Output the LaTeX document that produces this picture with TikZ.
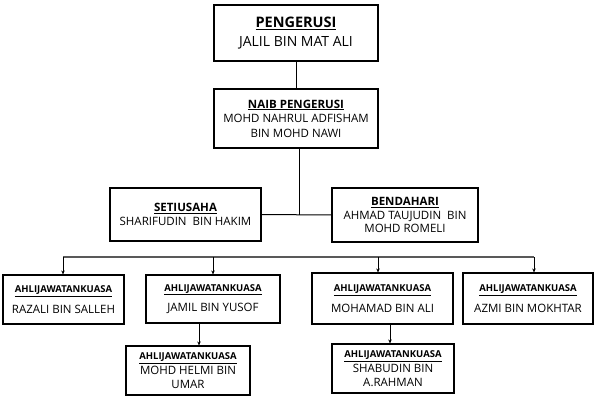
\documentclass[tikz,border=0pt]{standalone}
\usepackage{fontspec}
\setmainfont{Open Sans}
\usepackage{tikz}
\usetikzlibrary{arrows.meta,positioning,calc}

\begin{document}
\begin{tikzpicture}[x=1pt, y=-1pt]
  \tikzstyle{post} = [rectangle, draw=black, line width=1.1pt, fill=white, align=center,
                      inner sep=1pt, font=\fontsize{11.5}{13.5}\selectfont]
  \tikzstyle{link} = [line width=1pt, draw=black]
  \tikzstyle{bus} = [line width=1.4pt, draw=black!65]
  \tikzstyle{arrow} = [-{Stealth[length=4pt,width=3.5pt]}, line width=0.9pt]
  \newcommand{\jawatan}[1]{\underline{\textbf{#1}}}
  \newcommand{\ajk}{\fontsize{9.5}{11}\selectfont\jawatan{AHLIJAWATANKUASA}}
  \useasboundingbox (0,0) rectangle (599,401);
  % pengurusan atasan
  \node[post, minimum width=164pt, minimum height=56pt, font=\fontsize{14}{19}\selectfont]
    (pengerusi) at (296,33) {\fontsize{14.5}{19}\selectfont\jawatan{PENGERUSI}\\JALIL BIN MAT ALI};
  \node[post, minimum width=164pt, minimum height=59pt, font=\fontsize{11.5}{14.5}\selectfont]
    (naib) at (296,118.5) {\fontsize{11.5}{14.5}\selectfont\jawatan{NAIB PENGERUSI}\\MOHD NAHRUL ADFISHAM\\BIN MOHD NAWI};
  \node[post, minimum width=151pt, minimum height=53pt]
    (setiusaha) at (185.5,214.5) {\jawatan{SETIUSAHA}\\SHARIFUDIN~ BIN HAKIM};
  \node[post, minimum width=146pt, minimum height=54pt]
    (bendahari) at (405,215) {\jawatan{BENDAHARI}\\AHMAD TAUJUDIN~ BIN\\MOHD ROMELI};
  % ahli jawatankuasa
  \node[post, minimum width=121pt, minimum height=49pt]
    (razali) at (63.5,299.5) {\ajk\\[7pt]RAZALI BIN SALLEH};
  \node[post, minimum width=134pt, minimum height=48pt]
    (jamil) at (213,299) {\ajk\\[7pt]JAMIL BIN YUSOF};
  \node[post, minimum width=141pt, minimum height=51pt]
    (mohamad) at (382.5,298.5) {\ajk\\[7pt]MOHAMAD BIN ALI};
  \node[post, minimum width=130pt, minimum height=51pt]
    (azmi) at (528,298.5) {\ajk\\[7pt]AZMI BIN MOKHTAR};
  \node[post, minimum width=124pt, minimum height=49pt]
    (helmi) at (188,370.5) {\ajk\\[1.5pt]MOHD HELMI BIN\\UMAR};
  \node[post, minimum width=122pt, minimum height=49pt]
    (shabudin) at (393,368.5) {\ajk\\[1.5pt]SHABUDIN BIN\\A.RAHMAN};
  % garisan
  \coordinate (simpang) at (299,215);
  \coordinate (b1) at (63,257);
  \coordinate (b2) at (213,257);
  \coordinate (b3) at (378,257);
  \coordinate (b4) at (534,257);
  \draw[link] (pengerusi) -- (naib);
  \draw[link] (naib.south -| simpang) -- (simpang);
  \draw[link] (setiusaha.east) -- (bendahari.west);
  \draw[bus] (b1) -- (b4);
  \draw[arrow] (b1) -- (b1 |- razali.north);
  \draw[arrow] (b2) -- (b2 |- jamil.north);
  \draw[arrow] (b3) -- (b3 |- mohamad.north);
  \draw[arrow] (b4) -- (b4 |- azmi.north);
  \draw[arrow] (jamil.south -| 199,0) -- (helmi.north -| 199,0);
  \draw[arrow] (mohamad.south -| 390,0) -- (shabudin.north -| 390,0);
\end{tikzpicture}
\end{document}
